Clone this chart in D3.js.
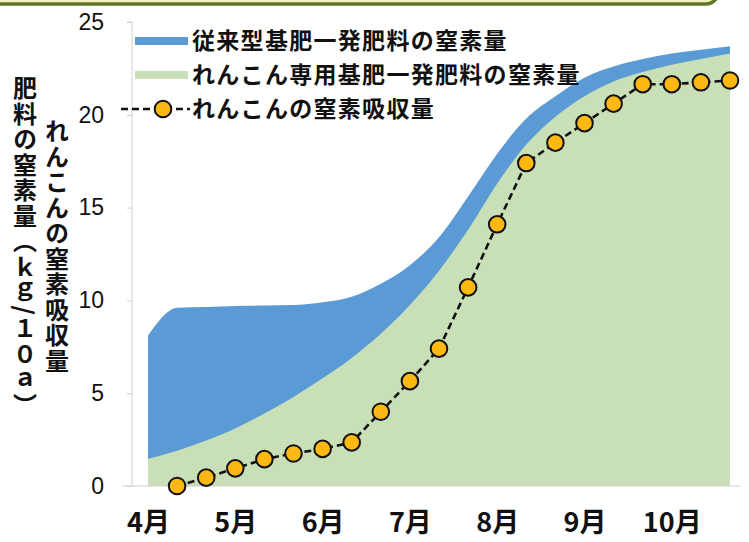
<!DOCTYPE html>
<html lang="ja">
<head>
<meta charset="utf-8">
<script src="https://cdn.jsdelivr.net/npm/d3@7"></script>
<style>
  html, body { margin: 0; padding: 0; background: #ffffff; }
  svg { display: block; }
  .jp { font-family: "Noto Sans CJK JP", "Noto Sans", sans-serif; }
  .num { font-family: "Liberation Sans", Arial, sans-serif; }
</style>
</head>
<body>
<svg id="chart" width="749" height="542"></svg>
<script>
// 旬ごとの時点（4月上旬の始まり = 0, 以後 1 旬ずつ）
const months = ["4月", "5月", "6月", "7月", "8月", "9月", "10月"];
const monthTicks = [0, 3, 6, 9, 12, 15, 18];
const yTicks = [0, 5, 10, 15, 20, 25];

// 肥料の窒素量 (kg/10a)：4月1日から旬ごと（21 時点）
const fertConventional = [8.1, 9.6, 9.65, 9.7, 9.72, 9.75, 9.9, 10.2, 10.9, 11.9, 13.4,
  15.6, 17.9, 19.8, 21.0, 22.0, 22.6, 23.0, 23.3, 23.5, 23.7];
const fertLotus = [1.45, 1.9, 2.45, 3.1, 3.9, 4.8, 5.8, 6.9, 8.2, 9.75, 11.6,
  13.8, 16.3, 18.4, 19.9, 21.0, 21.8, 22.3, 22.7, 23.0, 23.3];

// れんこんの窒素吸収量：4月中旬から旬ごと（20 時点）
const uptake = [0, 0.45, 0.95, 1.45, 1.75, 2.0, 2.35, 4.0, 5.65, 7.4, 10.7,
  14.1, 17.4, 18.5, 19.55, 20.6, 21.65, 21.65, 21.75, 21.85];

const seriesNames = ["従来型基肥一発肥料の窒素量", "れんこん専用基肥一発肥料の窒素量", "れんこんの窒素吸収量"];
const axisTitleLeft = "肥料の窒素量（ｋｇ/１０ａ）";
const axisTitleRight = "れんこんの窒素吸収量";

const colors = { conventional: "#5b9bd5", lotus: "#c9dfb8", marker: "#fdb812", axis: "#d0d0d0" };

const svg = d3.select("#chart");

// 上部の見出し枠（下辺のみ見える）
svg.append("rect")
  .attr("x", -20).attr("y", -40).attr("width", 738).attr("height", 44)
  .attr("rx", 12).attr("ry", 12)
  .attr("fill", "#f4f1bd").attr("stroke", "#5d7629").attr("stroke-width", 3.5);

const x = d3.scaleLinear().domain([0, 20]).range([148, 730]);
const y = d3.scaleLinear().domain([0, 25]).range([486, 22]);

// 面グラフ（従来型を奥、専用肥料を手前に重ねる）
const area = d3.area()
  .x((d, i) => x(i))
  .y0(y(0))
  .y1(d => y(d))
  .curve(d3.curveMonotoneX);

svg.append("path").datum(fertConventional)
  .attr("d", area).attr("fill", colors.conventional);
svg.append("path").datum(fertLotus)
  .attr("d", area).attr("fill", colors.lotus);

// 縦軸
const yAxis = svg.append("g")
  .attr("transform", `translate(132,0)`)
  .call(d3.axisLeft(y).tickValues(yTicks).tickSize(5).tickPadding(23));
yAxis.select(".domain").attr("stroke", colors.axis).attr("d", `M-5,${y(25)}H0V${y(0)}`);
yAxis.selectAll(".tick line").attr("stroke", colors.axis);
yAxis.selectAll(".tick text")
  .attr("class", "num")
  .attr("font-size", 23).attr("fill", "#111");

// 横軸の基線
svg.append("line")
  .attr("x1", 122).attr("x2", 740)
  .attr("y1", y(0)).attr("y2", y(0))
  .attr("stroke", colors.axis).attr("stroke-width", 1);

// 月ラベル
const xAxis = svg.append("g")
  .attr("transform", `translate(0,${y(0)})`)
  .call(d3.axisBottom(x).tickValues(monthTicks)
    .tickFormat(d => months[monthTicks.indexOf(d)]).tickSize(0).tickPadding(27));
xAxis.select(".domain").remove();
xAxis.selectAll(".tick text")
  .attr("class", "jp")
  .attr("font-size", 27).attr("font-weight", 700).attr("fill", "#111");

// 窒素吸収量の折れ線とマーカー
const line = d3.line().x((d, i) => x(i + 1)).y(d => y(d));
svg.append("path").datum(uptake)
  .attr("d", line).attr("fill", "none")
  .attr("stroke", "#111").attr("stroke-width", 2.6)
  .attr("stroke-dasharray", "7,4");
svg.append("g").selectAll("circle").data(uptake).join("circle")
  .attr("cx", (d, i) => x(i + 1)).attr("cy", d => y(d))
  .attr("r", 8.3)
  .attr("fill", colors.marker).attr("stroke", "#111").attr("stroke-width", 2);

// 凡例
const legend = svg.append("g").attr("class", "jp");
const rows = [41, 75, 109];
legend.append("rect").attr("x", 135).attr("y", rows[0] - 4).attr("width", 53).attr("height", 8)
  .attr("fill", colors.conventional);
legend.append("rect").attr("x", 135).attr("y", rows[1] - 4).attr("width", 53).attr("height", 8)
  .attr("fill", colors.lotus);
legend.append("line").attr("x1", 121).attr("x2", 190).attr("y1", rows[2]).attr("y2", rows[2])
  .attr("stroke", "#111").attr("stroke-width", 2.6).attr("stroke-dasharray", "7,4");
legend.append("circle").attr("cx", 163).attr("cy", rows[2]).attr("r", 8.3)
  .attr("fill", colors.marker).attr("stroke", "#111").attr("stroke-width", 2);
legend.selectAll("text").data(seriesNames).join("text")
  .attr("x", 192).attr("y", (d, i) => rows[i])
  .attr("dy", "0.36em")
  .attr("font-size", 23).attr("letter-spacing", 1.3)
  .attr("font-weight", 700).attr("fill", "#111")
  .text(d => d);

// 縦書きの軸タイトル
function verticalTitle(text, cx, top) {
  svg.append("text")
    .attr("class", "jp")
    .attr("x", cx).attr("y", top)
    .attr("writing-mode", "vertical-rl")
    .attr("font-size", 24).attr("font-weight", 700)
    .attr("letter-spacing", 1.5)
    .attr("fill", "#111")
    .text(text);
}
verticalTitle(axisTitleLeft, 25, 76);
verticalTitle(axisTitleRight, 57, 119);
</script>
</body>
</html>
